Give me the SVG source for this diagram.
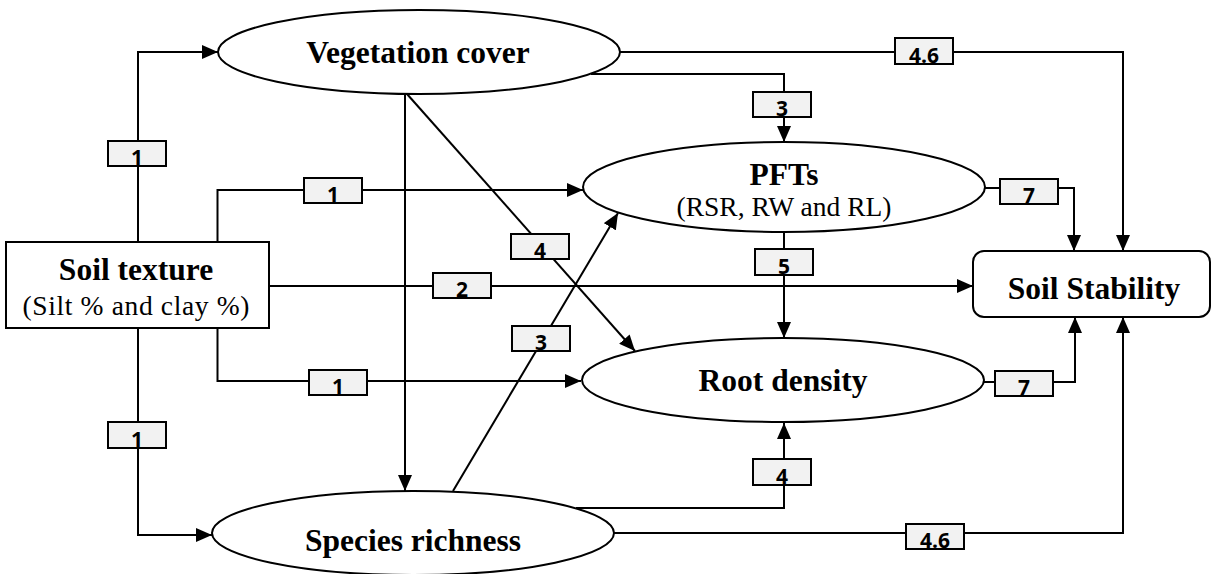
<svg xmlns="http://www.w3.org/2000/svg" width="1212" height="574" viewBox="0 0 1212 574">
  <style>
    .shape { fill: #fff; stroke: #000; stroke-width: 2; }
    .edge { fill: none; stroke: #000; stroke-width: 2; }
    .box { fill: #f2f2f2; stroke: #000; stroke-width: 2; }
  </style>
  <defs>
    <marker id="arrow" markerUnits="userSpaceOnUse" markerWidth="16" markerHeight="14" refX="16" refY="7" orient="auto">
      <path d="M0,0 L16,7 L0,14 z" fill="#000"/>
    </marker>
  </defs>
  <rect width="1212" height="574" fill="#fff"/>

  <!-- connectors -->
  <g id="connectors">
    <path class="edge" d="M138,242 V52 H218" marker-end="url(#arrow)"/>
    <path class="edge" d="M217.5,242 V190 H583" marker-end="url(#arrow)"/>
    <path class="edge" d="M269,286 H973" marker-end="url(#arrow)"/>
    <path class="edge" d="M217.5,328 V381 H581" marker-end="url(#arrow)"/>
    <path class="edge" d="M138,328 V535 H212" marker-end="url(#arrow)"/>
    <path class="edge" d="M405,94 V491" marker-end="url(#arrow)"/>
    <path class="edge" d="M407,94 L635,351" marker-end="url(#arrow)"/>
    <path class="edge" d="M453,491 L618,213" marker-end="url(#arrow)"/>
    <path class="edge" d="M591,74 H784 V142" marker-end="url(#arrow)"/>
    <path class="edge" d="M620,52 H1123 V251" marker-end="url(#arrow)"/>
    <path class="edge" d="M784,232 V338" marker-end="url(#arrow)"/>
    <path class="edge" d="M985,188 H1074 V251" marker-end="url(#arrow)"/>
    <path class="edge" d="M984,382 H1075 V317" marker-end="url(#arrow)"/>
    <path class="edge" d="M576,508 H784 V423" marker-end="url(#arrow)"/>
    <path class="edge" d="M614,533 H1123 V317" marker-end="url(#arrow)"/>

    <!-- path coefficients -->
    <g font-family="'Open Sans', 'Liberation Sans', Arial, sans-serif" font-weight="bold" font-size="21" text-anchor="middle" fill="#000">
      <rect class="box" x="108" y="141" width="58" height="25"/><text x="137" y="165">1</text>
      <rect class="box" x="304" y="178" width="58" height="25"/><text x="333" y="202">1</text>
      <rect class="box" x="433" y="273" width="58" height="25"/><text x="462" y="297">2</text>
      <rect class="box" x="309" y="370" width="58" height="25"/><text x="338" y="394">1</text>
      <rect class="box" x="108" y="422" width="58" height="26"/><text x="137" y="447">1</text>
      <rect class="box" x="511" y="234" width="58" height="25"/><text x="540" y="258">4</text>
      <rect class="box" x="512" y="326" width="58" height="25"/><text x="541" y="350">3</text>
      <rect class="box" x="753" y="92" width="58" height="25"/><text x="782" y="116">3</text>
      <rect class="box" x="895" y="38" width="58" height="26"/><text x="924" y="63">4.6</text>
      <rect class="box" x="755" y="249" width="58" height="26"/><text x="784" y="274">5</text>
      <rect class="box" x="1000" y="179" width="58" height="25"/><text x="1029" y="203">7</text>
      <rect class="box" x="995" y="371" width="58" height="25"/><text x="1024" y="395">7</text>
      <rect class="box" x="753" y="459" width="58" height="26"/><text x="782" y="484">4</text>
      <rect class="box" x="906" y="524" width="58" height="25"/><text x="935" y="548">4.6</text>
    </g>
  </g>

  <!-- nodes -->
  <g font-family="'Liberation Serif', 'Times New Roman', serif" text-anchor="middle" fill="#000">
    <g id="vegetation-cover">
      <ellipse class="shape" cx="419" cy="52" rx="201" ry="42"/>
      <text x="418" y="63" font-weight="bold" font-size="31.5">Vegetation cover</text>
    </g>
    <g id="pfts">
      <ellipse class="shape" cx="784" cy="187" rx="201" ry="45"/>
      <text x="784" y="185" font-weight="bold" font-size="31.5">PFTs</text>
      <text x="784" y="216" font-size="27.5">(RSR, RW and RL)</text>
    </g>
    <g id="root-density">
      <ellipse class="shape" cx="783" cy="380" rx="201" ry="42"/>
      <text x="783" y="391" font-weight="bold" font-size="31.5">Root density</text>
    </g>
    <g id="species-richness">
      <ellipse class="shape" cx="413" cy="533" rx="201" ry="42"/>
      <text x="413" y="551" font-weight="bold" font-size="31.5">Species richness</text>
    </g>
    <g id="soil-texture">
      <rect class="shape" x="6" y="242" width="263" height="86"/>
      <text x="136" y="280" font-weight="bold" font-size="31.5">Soil texture</text>
      <text x="136" y="315" font-size="27.5" textLength="227" lengthAdjust="spacing">(Silt % and clay %)</text>
    </g>
    <g id="soil-stability">
      <rect class="shape" x="973" y="251" width="237" height="66" rx="11" ry="11"/>
      <text x="1094" y="299" font-weight="bold" font-size="31.5">Soil Stability</text>
    </g>
  </g>
</svg>
